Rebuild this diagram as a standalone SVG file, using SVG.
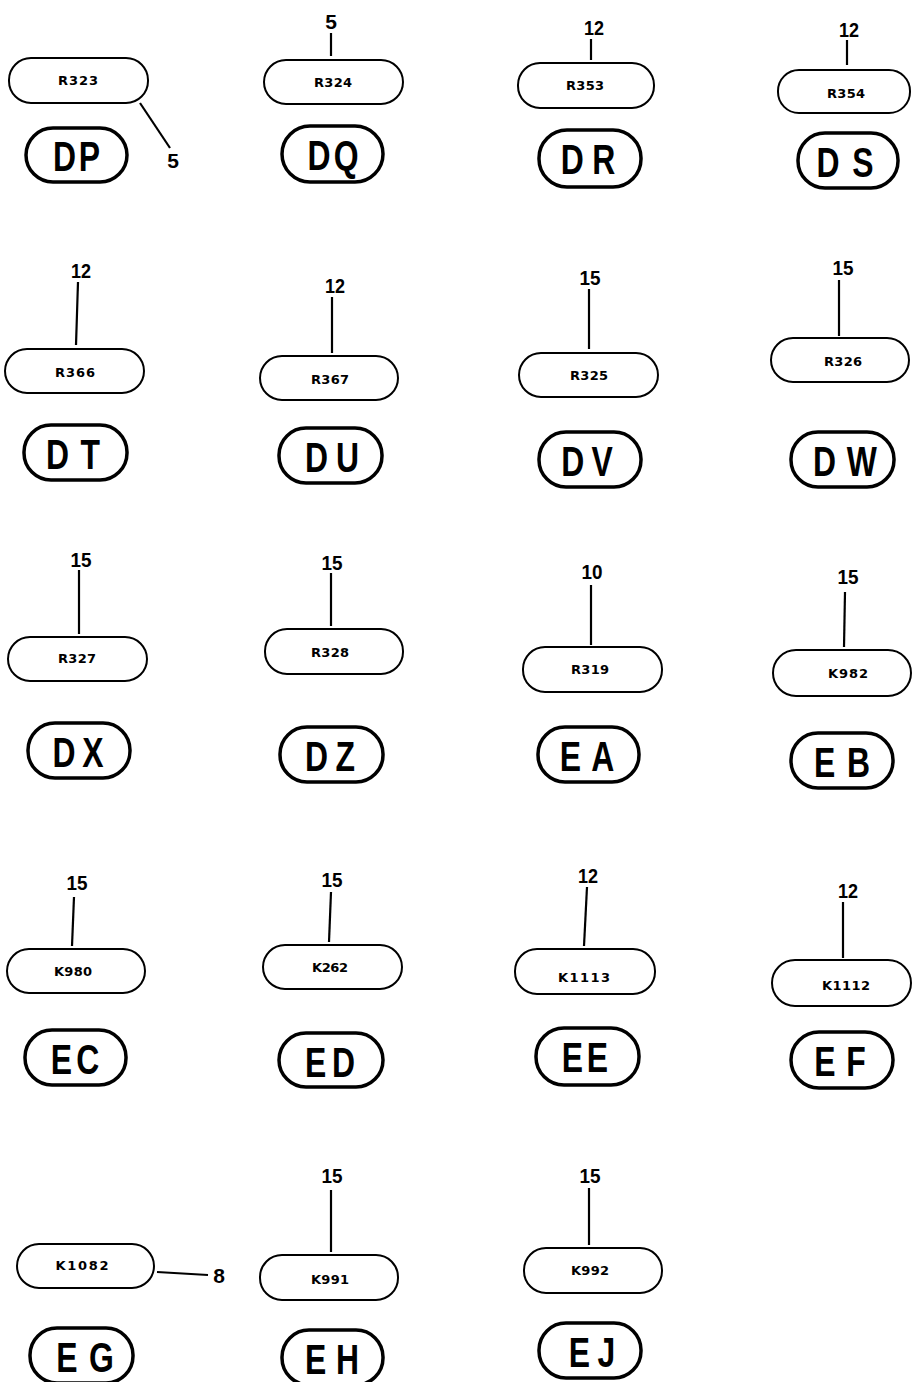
<svg xmlns="http://www.w3.org/2000/svg" width="912" height="1382" viewBox="0 0 912 1382">
<style>
.pill{fill:#fff;stroke:#000;stroke-width:2}
.oval{fill:#fff;stroke:#000;stroke-width:3.5}
.pt{font-family:"DejaVu Sans","Liberation Sans",sans-serif;font-weight:bold;font-size:13px;text-anchor:middle;fill:#000}
.big{font-family:"Liberation Sans","DejaVu Sans",sans-serif;font-weight:bold;font-size:42px;text-anchor:middle;fill:#000}
.num{font-family:"Liberation Sans","DejaVu Sans",sans-serif;font-weight:bold;font-size:21px;text-anchor:middle;fill:#000}
.ln{stroke:#000;stroke-width:2.2;fill:none}
</style>
<rect width="912" height="1382" fill="#fff"/>
<g id="connectors">
<line class="ln" x1="140" y1="103" x2="170" y2="148"/>
<line class="ln" x1="331" y1="33" x2="331" y2="56"/>
<line class="ln" x1="591" y1="39" x2="591" y2="60"/>
<line class="ln" x1="847" y1="40" x2="847" y2="65"/>
<line class="ln" x1="78" y1="282" x2="76" y2="345"/>
<line class="ln" x1="332" y1="297" x2="332" y2="353"/>
<line class="ln" x1="589" y1="289" x2="589" y2="349"/>
<line class="ln" x1="839" y1="280" x2="839" y2="336"/>
<line class="ln" x1="79" y1="570" x2="79" y2="634"/>
<line class="ln" x1="331" y1="573" x2="331" y2="626"/>
<line class="ln" x1="591" y1="585" x2="591" y2="645"/>
<line class="ln" x1="845" y1="592" x2="844" y2="647"/>
<line class="ln" x1="74" y1="897" x2="72" y2="946"/>
<line class="ln" x1="331" y1="892" x2="329" y2="942"/>
<line class="ln" x1="587" y1="887" x2="584" y2="946"/>
<line class="ln" x1="843" y1="902" x2="843" y2="958"/>
<line class="ln" x1="157" y1="1272" x2="208" y2="1275"/>
<line class="ln" x1="331" y1="1190" x2="331" y2="1252"/>
<line class="ln" x1="589" y1="1188" x2="589" y2="1245"/>
</g>
<g id="DP">
<rect class="pill" x="9" y="58" width="139" height="45" rx="22"/><text class="pt" x="78" y="85" textLength="40">R323</text>
<text class="num" x="173" y="168">5</text>
<rect class="oval" x="26" y="128" width="101" height="54" rx="27"/><text class="big" transform="translate(76.5,171) scale(0.76,1)" textLength="62" lengthAdjust="spacing">DP</text>
</g>
<g id="DQ">
<rect class="pill" x="264" y="60" width="139" height="44" rx="22"/><text class="pt" x="333" y="87" textLength="38">R324</text>
<text class="num" x="331" y="29">5</text>
<rect class="oval" x="282" y="126" width="101" height="56" rx="28"/><text class="big" transform="translate(333,170) scale(0.76,1)" textLength="67" lengthAdjust="spacing">DQ</text>
</g>
<g id="DR">
<rect class="pill" x="518" y="63" width="136" height="45" rx="22"/><text class="pt" x="585" y="90" textLength="38">R353</text>
<text class="num" x="594" y="35" textLength="20" lengthAdjust="spacingAndGlyphs">12</text>
<rect class="oval" x="539" y="130" width="102" height="57" rx="28"/><text class="big" transform="translate(588,174) scale(0.76,1)" textLength="72" lengthAdjust="spacing">DR</text>
</g>
<g id="DS">
<rect class="pill" x="778" y="70" width="132" height="43" rx="21"/><text class="pt" x="846" y="98" textLength="38">R354</text>
<text class="num" x="849" y="37" textLength="20" lengthAdjust="spacingAndGlyphs">12</text>
<rect class="oval" x="798" y="133" width="100" height="55" rx="27"/><text class="big" transform="translate(845,177) scale(0.76,1)" textLength="75" lengthAdjust="spacing">DS</text>
</g>
<g id="DT">
<rect class="pill" x="5" y="349" width="139" height="44" rx="22"/><text class="pt" x="75" y="377" textLength="40">R366</text>
<text class="num" x="81" y="278" textLength="20" lengthAdjust="spacingAndGlyphs">12</text>
<rect class="oval" x="24" y="425" width="103" height="55" rx="27"/><text class="big" transform="translate(73,469) scale(0.76,1)" textLength="71" lengthAdjust="spacing">DT</text>
</g>
<g id="DU">
<rect class="pill" x="260" y="356" width="138" height="44" rx="22"/><text class="pt" x="330" y="384" textLength="38">R367</text>
<text class="num" x="335" y="293" textLength="20" lengthAdjust="spacingAndGlyphs">12</text>
<rect class="oval" x="279" y="428" width="103" height="55" rx="27"/><text class="big" transform="translate(332,472) scale(0.76,1)" textLength="71" lengthAdjust="spacing">DU</text>
</g>
<g id="DV">
<rect class="pill" x="519" y="353" width="139" height="44" rx="22"/><text class="pt" x="589" y="380" textLength="38">R325</text>
<text class="num" x="590" y="285" textLength="21" lengthAdjust="spacingAndGlyphs">15</text>
<rect class="oval" x="539" y="432" width="102" height="55" rx="27"/><text class="big" transform="translate(587,476) scale(0.76,1)" textLength="68" lengthAdjust="spacing">DV</text>
</g>
<g id="DW">
<rect class="pill" x="771" y="338" width="138" height="44" rx="22"/><text class="pt" x="843" y="366" textLength="38">R326</text>
<text class="num" x="843" y="275" textLength="21" lengthAdjust="spacingAndGlyphs">15</text>
<rect class="oval" x="791" y="432" width="103" height="55" rx="27"/><text class="big" transform="translate(845,476) scale(0.76,1)" textLength="84" lengthAdjust="spacing">DW</text>
</g>
<g id="DX">
<rect class="pill" x="8" y="637" width="139" height="44" rx="22"/><text class="pt" x="77" y="663" textLength="38">R327</text>
<text class="num" x="81" y="567" textLength="21" lengthAdjust="spacingAndGlyphs">15</text>
<rect class="oval" x="28" y="723" width="102" height="55" rx="27"/><text class="big" transform="translate(78,767) scale(0.76,1)" textLength="67" lengthAdjust="spacing">DX</text>
</g>
<g id="DZ">
<rect class="pill" x="265" y="629" width="138" height="45" rx="22"/><text class="pt" x="330" y="657" textLength="38">R328</text>
<text class="num" x="332" y="570" textLength="21" lengthAdjust="spacingAndGlyphs">15</text>
<rect class="oval" x="280" y="727" width="103" height="55" rx="27"/><text class="big" transform="translate(330,771) scale(0.76,1)" textLength="66" lengthAdjust="spacing">DZ</text>
</g>
<g id="EA">
<rect class="pill" x="523" y="647" width="139" height="45" rx="22"/><text class="pt" x="590" y="674" textLength="38">R319</text>
<text class="num" x="592" y="579" textLength="21" lengthAdjust="spacingAndGlyphs">10</text>
<rect class="oval" x="538" y="727" width="101" height="55" rx="27"/><text class="big" transform="translate(587,771) scale(0.76,1)" textLength="72" lengthAdjust="spacing">EA</text>
</g>
<g id="EB">
<rect class="pill" x="773" y="650" width="138" height="46" rx="23"/><text class="pt" x="848" y="678" textLength="40">K982</text>
<text class="num" x="848" y="584" textLength="21" lengthAdjust="spacingAndGlyphs">15</text>
<rect class="oval" x="791" y="733" width="102" height="55" rx="27"/><text class="big" transform="translate(842,777) scale(0.76,1)" textLength="74" lengthAdjust="spacing">EB</text>
</g>
<g id="EC">
<rect class="pill" x="7" y="949" width="138" height="44" rx="22"/><text class="pt" x="73" y="976" textLength="38">K980</text>
<text class="num" x="77" y="890" textLength="21" lengthAdjust="spacingAndGlyphs">15</text>
<rect class="oval" x="25" y="1030" width="101" height="55" rx="27"/><text class="big" transform="translate(75,1074) scale(0.76,1)" textLength="64" lengthAdjust="spacing">EC</text>
</g>
<g id="ED">
<rect class="pill" x="263" y="945" width="139" height="44" rx="22"/><text class="pt" x="330" y="972" textLength="36">K262</text>
<text class="num" x="332" y="887" textLength="21" lengthAdjust="spacingAndGlyphs">15</text>
<rect class="oval" x="279" y="1033" width="104" height="54" rx="27"/><text class="big" transform="translate(330,1077) scale(0.76,1)" textLength="66" lengthAdjust="spacing">ED</text>
</g>
<g id="EE">
<rect class="pill" x="515" y="949" width="140" height="45" rx="22"/><text class="pt" x="584" y="982" textLength="52">K1113</text>
<text class="num" x="588" y="883" textLength="20" lengthAdjust="spacingAndGlyphs">12</text>
<rect class="oval" x="536" y="1028" width="103" height="57" rx="28"/><text class="big" transform="translate(585,1072) scale(0.76,1)" textLength="61" lengthAdjust="spacing">EE</text>
</g>
<g id="EF">
<rect class="pill" x="772" y="960" width="139" height="46" rx="23"/><text class="pt" x="846" y="990" textLength="48">K1112</text>
<text class="num" x="848" y="898" textLength="20" lengthAdjust="spacingAndGlyphs">12</text>
<rect class="oval" x="791" y="1032" width="102" height="56" rx="28"/><text class="big" transform="translate(840,1076) scale(0.76,1)" textLength="68" lengthAdjust="spacing">EF</text>
</g>
<g id="EG">
<rect class="pill" x="17" y="1244" width="137" height="44" rx="22"/><text class="pt" x="82" y="1270" textLength="53">K1082</text>
<text class="num" x="219" y="1283">8</text>
<rect class="oval" x="30" y="1328" width="103" height="55" rx="27"/><text class="big" transform="translate(85,1372) scale(0.76,1)" textLength="76" lengthAdjust="spacing">E G</text>
</g>
<g id="EH">
<rect class="pill" x="260" y="1255" width="138" height="45" rx="22"/><text class="pt" x="330" y="1284" textLength="38">K991</text>
<text class="num" x="332" y="1183" textLength="21" lengthAdjust="spacingAndGlyphs">15</text>
<rect class="oval" x="282" y="1330" width="101" height="55" rx="27"/><text class="big" transform="translate(332,1374) scale(0.76,1)" textLength="71" lengthAdjust="spacing">EH</text>
</g>
<g id="EJ">
<rect class="pill" x="524" y="1248" width="138" height="45" rx="22"/><text class="pt" x="590" y="1275" textLength="38">K992</text>
<text class="num" x="590" y="1183" textLength="21" lengthAdjust="spacingAndGlyphs">15</text>
<rect class="oval" x="539" y="1323" width="102" height="55" rx="27"/><text class="big" transform="translate(592,1367) scale(0.76,1)" textLength="61" lengthAdjust="spacing">EJ</text>
</g>
</svg>
